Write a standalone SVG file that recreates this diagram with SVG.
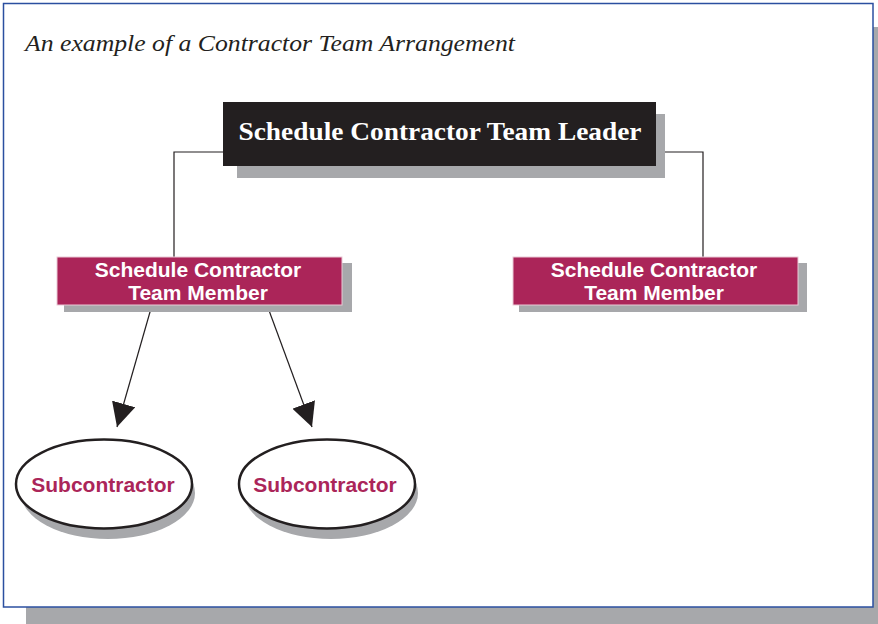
<svg xmlns="http://www.w3.org/2000/svg" width="878" height="624" viewBox="0 0 878 624">
<defs>
<style>
.shadow{fill:#A7A8AB}
.member{fill:#AB2559;stroke:#E9C9D6;stroke-width:1}
.mtext{font-family:"Liberation Sans",Arial,sans-serif;font-weight:bold;font-size:21px;fill:#FFFFFF;text-anchor:middle}
.stext{font-family:"Liberation Sans",Arial,sans-serif;font-weight:bold;font-size:21px;fill:#AB2559;text-anchor:middle}
.ell{fill:#FFFFFF;stroke:#231F20;stroke-width:2.5}
.conn{fill:none;stroke:#231F20;stroke-width:1.2}
</style>
<marker id="arr" viewBox="0 0 24 24" refX="24" refY="12" markerWidth="24" markerHeight="24" markerUnits="userSpaceOnUse" orient="auto">
<path d="M0,0 L24,12 L0,24 Z" fill="#231F20"/>
</marker>
</defs>
<rect x="0" y="0" width="878" height="624" fill="#FFFFFF"/>
<g id="frame">
<rect x="26" y="607" width="852" height="17" fill="#A7A8AB"/>
<rect x="873" y="27" width="5" height="597" fill="#A7A8AB"/>
<rect x="3.5" y="3.5" width="869.5" height="603.5" fill="#FFFFFF" stroke="#2B4FA0" stroke-width="1.5"/>
</g>
<text id="title" x="25" y="51" font-family="'Liberation Serif','Times New Roman',serif" font-style="italic" font-size="23" fill="#231F20" textLength="490" lengthAdjust="spacingAndGlyphs">An example of a Contractor Team Arrangement</text>
<g id="connectors">
<polyline class="conn" points="223,152 174,152 174,258"/>
<polyline class="conn" points="656,152 703,152 703,258"/>
<line class="conn" x1="152" y1="305" x2="117" y2="427" marker-end="url(#arr)"/>
<line class="conn" x1="267" y1="305" x2="312" y2="427" marker-end="url(#arr)"/>
</g>
<g id="leader">
<rect class="shadow" x="237" y="114" width="428" height="64"/>
<rect x="223" y="102" width="433" height="64" fill="#231F20"/>
<text x="440" y="140" font-family="'Liberation Serif','Times New Roman',serif" font-weight="bold" font-size="26" fill="#FFFFFF" text-anchor="middle" textLength="403" lengthAdjust="spacingAndGlyphs">Schedule Contractor Team Leader</text>
</g>
<g id="member1">
<rect class="shadow" x="64" y="263" width="288" height="49"/>
<rect class="member" x="57" y="257" width="285" height="48"/>
<text class="mtext" x="198" y="277">Schedule Contractor</text>
<text class="mtext" x="198" y="300">Team Member</text>
</g>
<g id="member2">
<rect class="shadow" x="519" y="263" width="288" height="49"/>
<rect class="member" x="513" y="257" width="285" height="48"/>
<text class="mtext" x="654" y="277">Schedule Contractor</text>
<text class="mtext" x="654" y="300">Team Member</text>
</g>
<g id="sub1">
<ellipse class="shadow" cx="108" cy="493" rx="87" ry="46"/>
<ellipse class="ell" cx="104" cy="484" rx="88" ry="44.5"/>
<text class="stext" x="103" y="492">Subcontractor</text>
</g>
<g id="sub2">
<ellipse class="shadow" cx="331" cy="493" rx="87" ry="46"/>
<ellipse class="ell" cx="327" cy="484" rx="88" ry="44.5"/>
<text class="stext" x="325" y="492">Subcontractor</text>
</g>
</svg>
